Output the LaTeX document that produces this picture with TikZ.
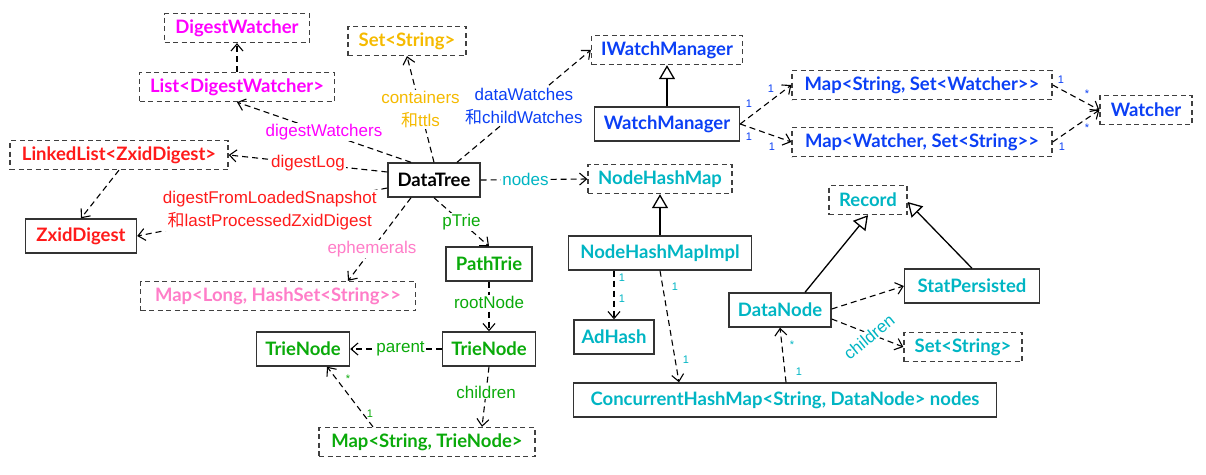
\documentclass[tikz,border=0pt]{standalone}
\usepackage{fontspec}
\setmainfont{Lato}
\newfontfamily\lblfont{Liberation Sans}
\newfontfamily\cjk{Noto Sans CJK SC}
\usepackage{tikz}
\usetikzlibrary{arrows.meta}
\definecolor{cMag}{HTML}{FF00FF}
\definecolor{cYel}{HTML}{F5BA00}
\definecolor{cBlu}{HTML}{0B3FF5}
\definecolor{cRed}{HTML}{FF1A1A}
\definecolor{cCya}{HTML}{00B5C3}
\definecolor{cGrn}{HTML}{0AAA0A}
\definecolor{cPnk}{HTML}{FF7DC8}

\begin{document}
\begin{tikzpicture}[x=1pt,y=-1pt,
        cls/.style={draw=black!80,line width=1.4pt,minimum height=34pt,inner sep=0pt,font=\bfseries\fontsize{18.5}{21}\selectfont},
        ifc/.style={draw=black!75,line width=1.3pt,dash pattern=on 5pt off 3.5pt,minimum height=29pt,inner sep=0pt,font=\bfseries\fontsize{18.5}{21}\selectfont},
        dep/.style={line width=1.1pt,dash pattern=on 6pt off 4pt,-{Straight Barb[length=7pt,width=12pt]}},
        gen/.style={line width=1.3pt,-{Triangle[open,length=14pt,width=16pt,fill=white]}},
        lbl/.style={fill=white,inner sep=1pt,align=center,font=\lblfont\fontsize{17}{23}\selectfont},
        mult/.style={inner sep=0pt,font=\lblfont\fontsize{11}{12}\selectfont}]
        \useasboundingbox (0,0) rectangle (1206,474);

        \node[ifc,text=cMag,minimum width=145pt] (dw) at (237,28) {DigestWatcher};
        \node[ifc,text=cYel,minimum width=118pt] (sy) at (407,41) {Set<String>};
        \node[ifc,text=cMag,minimum width=195pt] (ld) at (237,87) {List<DigestWatcher>};
        \node[ifc,text=cRed,minimum width=218pt] (ll) at (119,155) {LinkedList<ZxidDigest>};
        \node[cls,minimum width=92pt] (dt) at (434,180) {DataTree};
        \node[cls,text=cRed,minimum width=111pt] (zd) at (81,236) {ZxidDigest};
        \node[ifc,text=cPnk,minimum width=275pt] (ml) at (278,296) {Map<Long, HashSet<String>{}>};

        \node[ifc,text=cBlu,minimum width=151pt] (iw) at (667,50) {IWatchManager};
        \node[cls,text=cBlu,minimum width=145pt] (wm) at (667,124) {WatchManager};
        \node[ifc,text=cBlu,minimum width=260pt] (msw) at (922,85) {Map<String, Set<Watcher>{}>};
        \node[ifc,text=cBlu,minimum width=260pt] (mws) at (922,142) {Map<Watcher, Set<String>{}>};
        \node[ifc,text=cBlu,minimum width=92pt] (wa) at (1146,110) {Watcher};

        \node[ifc,text=cCya,minimum width=144pt] (nhm) at (660,179) {NodeHashMap};
        \node[cls,text=cCya,minimum width=183pt] (nhi) at (660,253) {NodeHashMapImpl};
        \node[cls,text=cCya,minimum width=80pt] (ah) at (614,337) {AdHash};
        \node[ifc,text=cCya,minimum width=78pt] (rec) at (868,200) {Record};
        \node[cls,text=cCya,minimum width=135pt] (sp) at (972,286) {StatPersisted};
        \node[cls,text=cCya,minimum width=102pt] (dn) at (780,310) {DataNode};
        \node[ifc,text=cCya,minimum width=118pt] (sc) at (963,347) {Set<String>};
        \node[cls,text=cCya,minimum width=423pt] (chm) at (785,400) {ConcurrentHashMap<String, DataNode> nodes};

        \node[cls,text=cGrn,minimum width=86pt] (pt) at (489,264) {PathTrie};
        \node[cls,text=cGrn,minimum width=93pt] (tl) at (303,349) {TrieNode};
        \node[cls,text=cGrn,minimum width=93pt] (tr) at (489,349) {TrieNode};
        \node[ifc,text=cGrn,minimum width=216pt] (mt) at (427,442) {Map<String, TrieNode>};

        \draw[dep] ([xshift=-23pt]dt.north) -- node[lbl,text=cMag] {digestWatchers} (ld.south);
        \draw[dep] (ld.north) -- (dw.south);
        \draw[dep] (dt.north) -- node[lbl,text=cYel] {containers\\{\cjk 和}ttls} (sy.south);
        \draw[dep] ([xshift=23pt]dt.north) -- node[lbl,text=cBlu] {dataWatches\\{\cjk 和}childWatches} (iw.west);
        \draw[dep] ([yshift=8pt]dt.west) -- node[lbl,text=cRed] {digestLog} (ll.east);
        \draw[dep] (ll.south) -- (zd.north);
        \draw[dep] ([yshift=-8pt]dt.west) -- node[lbl,text=cRed,pos=0.47] {digestFromLoadedSnapshot\\{\cjk 和}lastProcessedZxidDigest} (zd.east);
        \draw[dep] ([xshift=-23pt]dt.south) -- node[lbl,text=cPnk,pos=0.62] {ephemerals} ([xshift=70pt]ml.north);
        \draw[dep] (dt.south) -- node[lbl,text=cGrn] {pTrie} (pt.north);
        \draw[dep] (dt.east) -- node[lbl,text=cCya,pos=0.42] {nodes} (nhm.west);

        \draw[gen] (wm.north) -- (iw.south);
        \draw[dep] (wm.east) -- (msw.west);
        \draw[dep] (wm.east) -- (mws.west);
        \draw[dep] (msw.east) -- (wa.west);
        \draw[dep] (mws.east) -- (wa.west);
        \node[mult,text=cBlu] (m1) at (749,104) {1};
        \node[mult,text=cBlu] (m2) at (771,89) {1};
        \node[mult,text=cBlu] (m3) at (749,137) {1};
        \node[mult,text=cBlu] (m4) at (772,147) {1};
        \node[mult,text=cBlu] (m5) at (1061,80) {1};
        \node[mult,text=cBlu] (m6) at (1087,94) {*};
        \node[mult,text=cBlu] (m7) at (1087,128) {*};
        \node[mult,text=cBlu] (m8) at (1062,147) {1};

        \draw[gen] (nhi.north) -- (nhm.south);
        \draw[dep] (ah.north |- nhi.south) -- (ah.north);
        \draw[dep] (nhi.south) -- ([xshift=-106pt]chm.north);
        \draw[gen] ([xshift=25pt]dn.north) -- (rec.south);
        \draw[gen] (sp.north) -- ([yshift=-2pt]rec.east);
        \draw[dep] ([yshift=1pt]dn.east) -- (sp.west);
        \draw[dep] ([yshift=-9pt]dn.east) -- (sc.west);
        \node[text=cCya,fill=white,rotate=39,inner sep=1pt,font=\lblfont\fontsize{17}{19}\selectfont] (chl) at (869,337) {children};
        \draw[dep] ([xshift=1pt]chm.north) -- (dn.south);
        \node[mult,text=cCya] (m9) at (622,278) {1};
        \node[mult,text=cCya] (m10) at (622,299) {1};
        \node[mult,text=cCya] (m11) at (675,287) {1};
        \node[mult,text=cCya] (m12) at (686,360) {1};
        \node[mult,text=cCya] (m13) at (792,345) {*};
        \node[mult,text=cCya] (m14) at (799,372) {1};

        \draw[dep] (pt.south) -- node[lbl,text=cGrn,pos=0.42] {rootNode} (tr.north);
        \draw[dep] (tr.west) -- node[lbl,text=cGrn,pos=0.45] {parent} (tl.east);
        \draw[dep] (tr.south) -- node[lbl,text=cGrn,pos=0.42] {children} ([xshift=55pt]mt.north);
        \draw[dep] ([xshift=-54pt]mt.north) -- ([xshift=24pt]tl.south);
        \node[mult,text=cGrn] (m15) at (348,379) {*};
        \node[mult,text=cGrn] (m16) at (370,414) {1};
\end{tikzpicture}
\end{document}
